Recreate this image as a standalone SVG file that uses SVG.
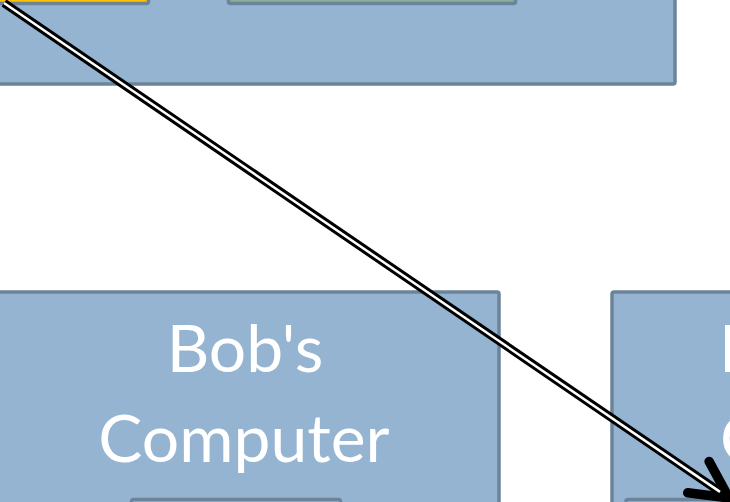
<svg xmlns="http://www.w3.org/2000/svg" width="730" height="502" viewBox="0 0 730 502">
  <style>
    .box { fill: #94B4D2; stroke: #6B8499; stroke-width: 3.5; }
    .inner { stroke: #6B8499; stroke-width: 3.5; }
    .label { font-family: Lato, "Liberation Sans", sans-serif; font-size: 66px; fill: #FFFFFF; text-anchor: middle; }
    .wire-outer { stroke: #000000; stroke-width: 8.5; fill: none; }
    .wire-inner { stroke: #FFFFFF; stroke-width: 2.5; fill: none; }
  </style>
  <defs>
    <marker id="chevron" markerUnits="userSpaceOnUse" markerWidth="60" markerHeight="60" refX="0" refY="0" viewBox="-50 -30 60 60" orient="auto" overflow="visible">
      <path d="M -37 -19 L 0 0 L -37 19" fill="none" stroke="#000000" stroke-width="9.5" stroke-linecap="round" stroke-linejoin="round"/>
    </marker>
  </defs>

  <!-- upper container with its two machines -->
  <g id="top-panel">
    <rect class="box" x="-20" y="-100" width="695" height="184" rx="2"/>
  </g>
  <g id="sender">
    <rect class="inner" x="-50" y="-60" width="198.5" height="63.5" rx="2" fill="#FFC000"/>
  </g>
  <g id="server">
    <rect class="inner" x="228.5" y="-60" width="287" height="63.5" rx="2" fill="#87B09A"/>
  </g>

  <!-- Bob's machine -->
  <g id="bob">
    <rect class="box" x="-20" y="292" width="519" height="300" rx="2"/>
    <text class="label" x="245" y="372">Bob's</text>
    <text class="label" x="244" y="462">Computer</text>
    <rect class="inner" x="131.5" y="499.5" width="209" height="40" rx="2" fill="#94B4D2"/>
  </g>

  <!-- right-hand machine -->
  <g id="other">
    <rect class="box" x="612" y="292" width="400" height="300" rx="2"/>
    <text class="label" x="719" y="372" style="text-anchor:start">I</text>
    <text class="label" x="720" y="462" style="text-anchor:start">C</text>
    <rect class="inner" x="626" y="499.5" width="200" height="40" rx="2" fill="#94B4D2"/>
  </g>

  <!-- connectors -->
  <g id="connectors">
    <line class="wire-outer" x1="4" y1="3" x2="729" y2="498" marker-end="url(#chevron)"/>
    <line class="wire-inner" x1="4" y1="3" x2="720" y2="491.9"/>
  </g>
</svg>
